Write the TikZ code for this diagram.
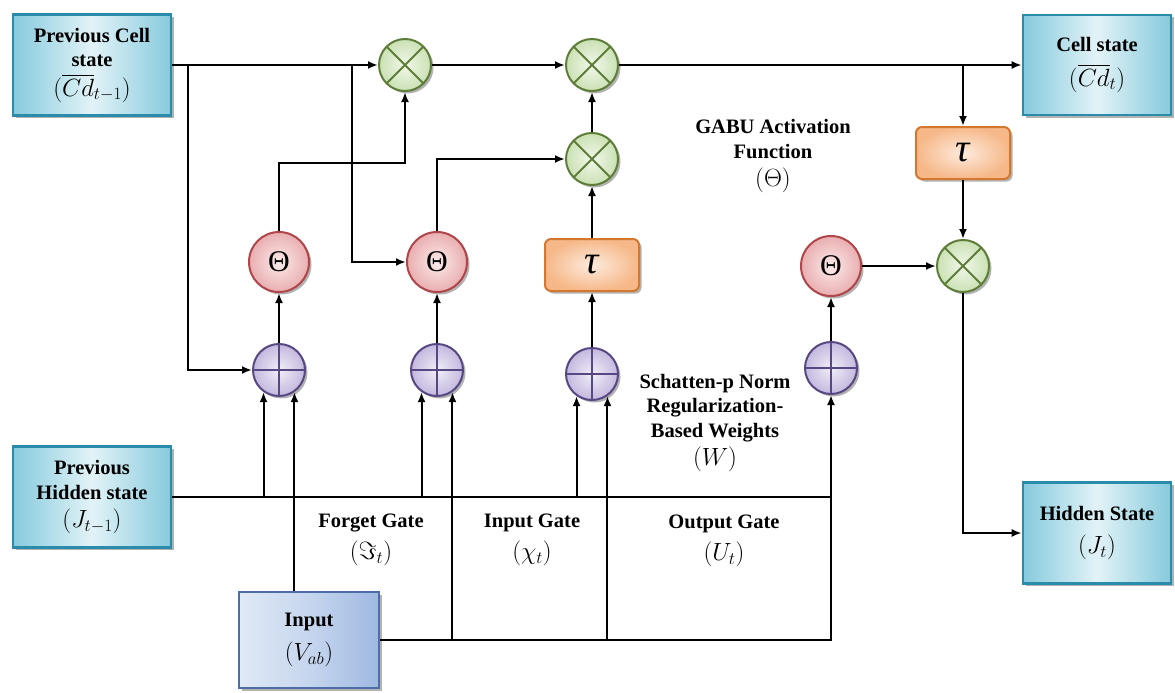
\documentclass[tikz,border=0pt]{standalone}
\usepackage{amsmath}
\usepackage{fontspec}
\setmainfont{Liberation Serif}
\usepackage{xcolor}
\usepackage{tikz}
\usetikzlibrary{arrows.meta,positioning,shadows}

\definecolor{stateedge}{HTML}{2A8BAA}
\definecolor{statedark}{HTML}{86CADD}
\definecolor{statelight}{HTML}{E2F3F7}
\definecolor{inpedge}{HTML}{4C6DA6}
\definecolor{inpdark}{HTML}{9FB9E2}
\definecolor{inplight}{HTML}{E0E9F6}
\definecolor{muledge}{HTML}{5E7D38}
\definecolor{mulfill}{HTML}{CBE1B4}
\definecolor{mulin}{HTML}{F1F7EA}
\definecolor{actedge}{HTML}{B0464A}
\definecolor{actfill}{HTML}{E9AEB0}
\definecolor{actin}{HTML}{FCEAEA}
\definecolor{addedge}{HTML}{574883}
\definecolor{addfill}{HTML}{C4B8DE}
\definecolor{addin}{HTML}{F1EEF8}
\definecolor{tanhedge}{HTML}{D5782F}
\definecolor{tanhfill}{HTML}{F6B889}
\definecolor{tanhin}{HTML}{FDEBDD}

\newcommand{\mth}[1]{{\fontsize{25}{28}\selectfont$#1$}}

\begin{document}
\begin{tikzpicture}[
  x=1pt, y=-1pt,
  font=\fontsize{20.5}{24.5}\selectfont\bfseries,
  arr/.style={-{Latex[length=10pt,width=8pt]}, line width=2pt},
  wire/.style={line width=2pt},
  softshadow/.style={drop shadow={shadow xshift=2.5pt, shadow yshift=-2.5pt, opacity=0.3, fill=black}},
  statebox/.style={draw=stateedge, line width=2.6pt, left color=statedark, right color=statedark, middle color=statelight, minimum width=158pt, minimum height=101pt, align=center, inner sep=2pt, softshadow},
  inputbox/.style={statebox, draw=inpedge, left color=inplight, right color=inpdark, middle color=inplight!60!inpdark, minimum width=140pt, minimum height=96pt},
  gatecirc/.style={circle, line width=2pt, inner sep=0pt, softshadow},
  mulnode/.style={gatecirc, draw=muledge, inner color=mulin, outer color=mulfill, minimum size=52pt,
    path picture={\draw[muledge, line width=2pt] (path picture bounding box.north west) -- (path picture bounding box.south east)
      (path picture bounding box.north east) -- (path picture bounding box.south west);}},
  addnode/.style={gatecirc, draw=addedge, inner color=addin, outer color=addfill, minimum size=52pt,
    path picture={\draw[addedge, line width=2pt] (path picture bounding box.north) -- (path picture bounding box.south)
      (path picture bounding box.west) -- (path picture bounding box.east);}},
  actnode/.style={gatecirc, draw=actedge, inner color=actin, outer color=actfill, minimum size=60pt, font=\fontsize{30}{30}\selectfont},
  tanhnode/.style={draw=tanhedge, line width=2pt, rounded corners=6pt, inner color=tanhin, outer color=tanhfill, minimum width=94pt, minimum height=52pt, inner sep=0pt, font=\fontsize{40}{40}\selectfont\itshape, softshadow},
  lbl/.style={align=center}
]
\useasboundingbox (0,0) rectangle (1175,693);
% states and input
\node[statebox] (prevcell) at (92,65) {Previous Cell\\state\\[5pt]\mth{(\overline{Cd}_{t-1})}};
\node[statebox, minimum width=148pt, minimum height=100pt] (cell) at (1097,65) {Cell state\\[10pt]\mth{(\overline{Cd}_t)}};
\node[statebox] (prevhid) at (92,497) {Previous\\Hidden state\\[4pt]\mth{(J_{t-1})}};
\node[statebox, minimum width=148pt] (hid) at (1097,533) {Hidden State\\[8pt]\mth{(J_t)}};
\node[inputbox] (inp) at (309,640) {Input\\[10pt]\mth{(V_{ab})}};
% operations
\node[mulnode] (mul1) at (405,65) {};
\node[mulnode] (mul2) at (592,65) {};
\node[mulnode, below=40pt of mul2] (mul3) {};
\node[tanhnode, below=52pt of mul3] (tanh1) {τ};
\node[addnode, below=55pt of tanh1] (add3) {};
\node[actnode] (act1) at (279,262) {Θ};
\node[addnode, below=50pt of act1] (add1) {};
\node[actnode] (act2) at (437,262) {Θ};
\node[addnode, below=50pt of act2] (add2) {};
\node[actnode] (act3) at (831,266) {Θ};
\node[addnode, below=44pt of act3] (add4) {};
\node[tanhnode] (tanh2) at (963,153) {τ};
\node[mulnode, below=59pt of tanh2] (mul4) {};
% text labels
\node[lbl] (gabu) at (773,156) {GABU Activation\\Function\\[4pt]\mth{(\Theta)}};
\node[lbl] (schat) at (715,423) {Schatten-p Norm\\Regularization-\\Based Weights\\[4pt]\mth{(W)}};
\node[lbl] (fgate) at (371,540) {Forget Gate\\[7pt]\mth{(\Im_t)}};
\node[lbl] (igate) at (532,540) {Input Gate\\[7pt]\mth{(\chi_t)}};
\node[lbl] (ogate) at (724,541) {Output Gate\\[8pt]\mth{(U_t)}};
% cell state path
\coordinate (cbr1) at (188,65);
\coordinate (cbr2) at (352,65);
\coordinate (cbr3) at (963,65);
\draw[arr] (prevcell.east) -- (mul1.west);
\draw[arr] (mul1.east) -- (mul2.west);
\draw[arr] (mul2.east) -- (cell.west);
\draw[arr] (cbr1) |- (add1.west);
\draw[arr] (cbr2) |- (act2.west);
\draw[arr] (cbr3) -- (tanh2.north);
\draw[arr] (act1.north) -- ++(0,-68) -| (mul1.south);
\draw[arr] (act2.north) |- (mul3.west);
\draw[arr] (mul3.north) -- (mul2.south);
\draw[arr] (tanh1.north) -- (mul3.south);
\draw[arr] (tanh2.south) -- (mul4.north);
\draw[arr] (act3.east) -- (mul4.west);
\draw[arr] (mul4.south) |- (hid.west);
% gate sums
\draw[arr] (add1.north) -- (act1.south);
\draw[arr] (add2.north) -- (act2.south);
\draw[arr] (add3.north) -- (tanh1.south);
\draw[arr] (add4.north) -- (act3.south);
% hidden state and input buses
\draw[wire] (prevhid.east) -- (prevhid.east -| add4.south);
\foreach \g in {add1,add2,add3}
  \draw[arr] (\g.235 |- prevhid.east) -- (\g.235);
\draw[arr] (inp.east) -| (add4.south);
\draw[arr] (add1.305 |- inp.north) -- (add1.305);
\foreach \g in {add2,add3}
  \draw[arr] (\g.305 |- inp.east) -- (\g.305);
\end{tikzpicture}
\end{document}
